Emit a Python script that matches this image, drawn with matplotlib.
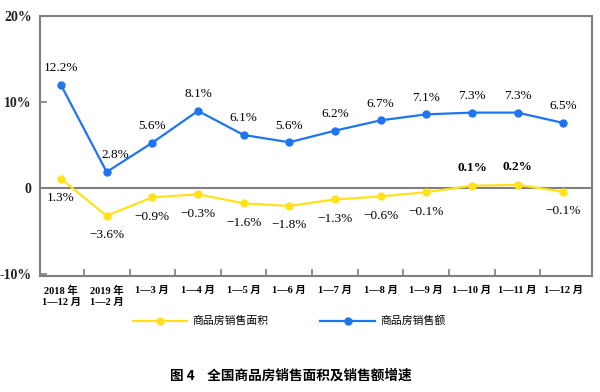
import matplotlib
matplotlib.use("Agg")
import matplotlib.pyplot as plt
from matplotlib.lines import Line2D

categories = ["2018 年\n1—12 月", "2019 年\n1—2 月", "1—3 月", "1—4 月", "1—5 月", "1—6 月",
              "1—7 月", "1—8 月", "1—9 月", "1—10 月", "1—11 月", "1—12 月"]
# plotted positions
sales_value = [12.0, 1.9, 5.3, 9.0, 6.2, 5.35, 6.7, 7.9, 8.6, 8.8, 8.8, 7.6]
sales_area = [1.1, -3.2, -1.05, -0.7, -1.75, -2.05, -1.3, -0.95, -0.45, 0.3, 0.4, -0.4]
# printed data labels
sales_value_labels = ["12.2%", "2.8%", "5.6%", "8.1%", "6.1%", "5.6%", "6.2%", "6.7%",
                      "7.1%", "7.3%", "7.3%", "6.5%"]
sales_area_labels = ["1.3%", "\u22123.6%", "\u22120.9%", "\u22120.3%", "\u22121.6%", "\u22121.8%",
                     "\u22121.3%", "\u22120.6%", "\u22120.1%", "0.1%", "0.2%", "\u22120.1%"]
ytick_vals = [-10, 0, 10, 20]
ytick_labels = ["-10%", "0", "10%", "20%"]
legend_labels = ["商品房销售面积", "商品房销售额"]
title = "图 4    全国商品房销售面积及销售额增速"

BLUE = "#1f74f0"
YELLOW = "#ffe21a"
GRAY = "#7f7f7f"
CJK = ["Noto Sans CJK SC", "DejaVu Sans"]
SERIF = ["Liberation Serif", "Noto Sans CJK SC"]

fig = plt.figure(figsize=(6.0, 3.92), dpi=100)
ax = fig.add_axes([0.0667, 0.2959, 0.92, 0.6625])
x = list(range(len(categories)))

ax.plot(x, sales_value, color=BLUE, lw=1.6, marker="o", ms=5, zorder=3)
ax.plot(x, sales_area, color=YELLOW, lw=1.6, marker="o", ms=5, zorder=3)
ax.axhline(0, color=GRAY, lw=1.5, zorder=2)

ax.set_xlim(-0.46, 11.63)
ax.set_ylim(-10.2, 20)
ax.set_yticks(ytick_vals)
ax.set_yticklabels(ytick_labels, fontfamily=SERIF, fontsize=10, fontweight="bold", color="#222222")
ax.tick_params(axis="y", direction="in", length=5, width=1.2, color=GRAY, pad=6)
ax.set_xticks([i + 0.5 for i in range(len(categories) - 1)])
ax.set_xticklabels([])
ax.tick_params(axis="x", direction="in", length=5, width=1.2, color=GRAY)
for s in ax.spines.values():
    s.set_color(GRAY)
    s.set_linewidth(1.5)

for i, lab in enumerate(categories):
    ax.text(i, -11.3, lab, ha="center", va="top", fontsize=7.5, fontweight="bold",
            family=SERIF, linespacing=1.35)

for i, (v, lab) in enumerate(zip(sales_value, sales_value_labels)):
    dx = 6 if i == 1 else 0
    ax.annotate(lab, (i, v), xytext=(dx, 12), textcoords="offset points",
                ha="center", va="center", fontsize=9.5, family=SERIF)
for i, (v, lab) in enumerate(zip(sales_area, sales_area_labels)):
    if v > 0 and i > 0:
        ax.annotate(lab, (i, v), xytext=(0, 13), textcoords="offset points",
                    ha="center", va="center", fontsize=9.5, family=SERIF, fontweight="bold")
    else:
        ax.annotate(lab, (i, v), xytext=(0, -14), textcoords="offset points",
                    ha="center", va="center", fontsize=9.5, family=SERIF)

# legend
fy = 1 - 321 / 392
fig.add_artist(Line2D([133 / 600, 187 / 600], [fy, fy], color=YELLOW, lw=1.6,
                      transform=fig.transFigure))
fig.add_artist(Line2D([160 / 600], [fy], color=YELLOW, marker="o", ms=5, transform=fig.transFigure))
fig.text(192 / 600, fy, legend_labels[0], fontsize=7.8, family=CJK, va="center", ha="left")
fig.add_artist(Line2D([320 / 600, 375 / 600], [fy, fy], color=BLUE, lw=1.6,
                      transform=fig.transFigure))
fig.add_artist(Line2D([348 / 600], [fy], color=BLUE, marker="o", ms=5, transform=fig.transFigure))
fig.text(380 / 600, fy, legend_labels[1], fontsize=7.8, family=CJK, va="center", ha="left")

fig.text(291 / 600, 1 - 376 / 392, title, fontsize=9.8, family=CJK, fontweight="bold",
         ha="center", va="center")

fig.savefig("out.png", dpi=100)
